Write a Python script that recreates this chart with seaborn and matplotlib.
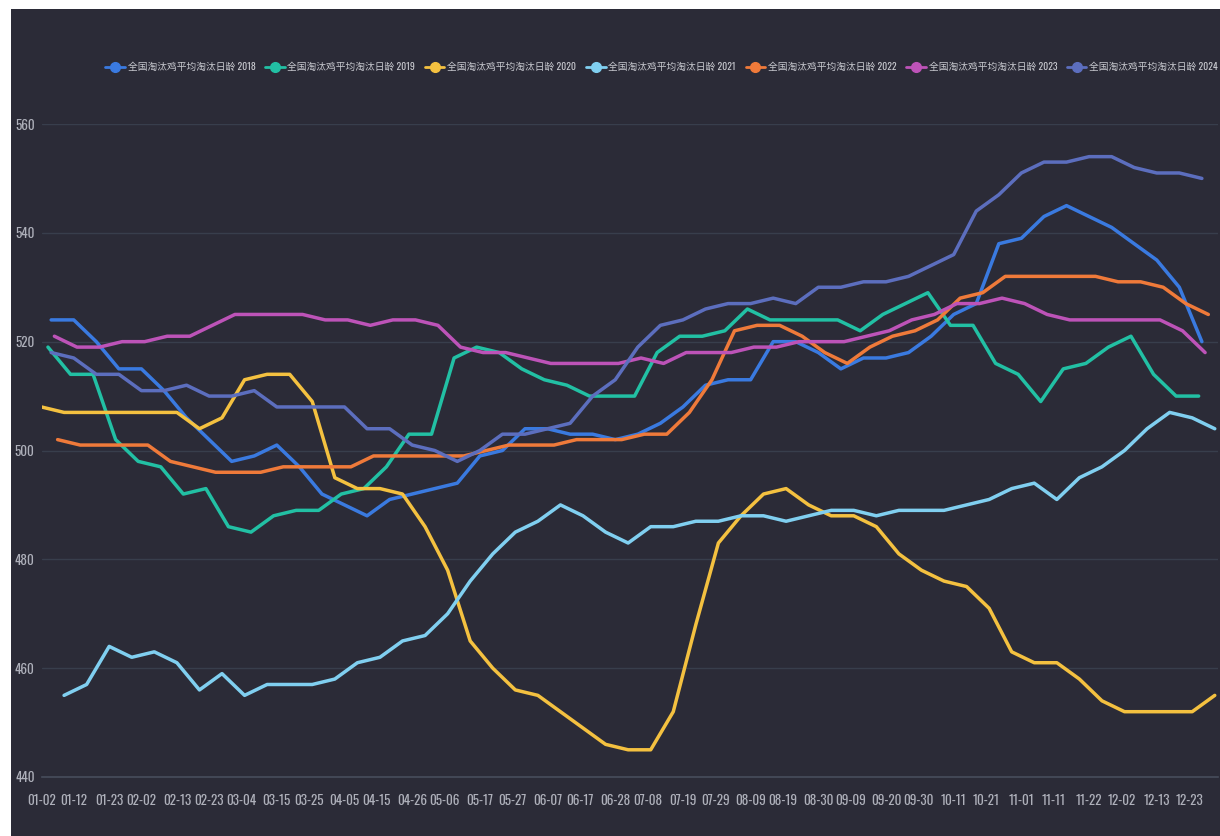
import pandas as pd
import matplotlib
matplotlib.use("Agg")
from matplotlib import pyplot as plt
from matplotlib.lines import Line2D
from matplotlib.patches import Rectangle
import seaborn as sns

# --- data (weekly points, one list per year) ---
series_names = ["全国淘汰鸡平均淘汰日龄 2018", "全国淘汰鸡平均淘汰日龄 2019",
                "全国淘汰鸡平均淘汰日龄 2020", "全国淘汰鸡平均淘汰日龄 2021",
                "全国淘汰鸡平均淘汰日龄 2022", "全国淘汰鸡平均淘汰日龄 2023",
                "全国淘汰鸡平均淘汰日龄 2024"]
start_dates = ["01-05", "01-04", "01-02", "01-09", "01-07", "01-06", "01-05"]
colors = ["#3a7ae0", "#22c0a4", "#f4c140", "#80cff0", "#ef7a3a", "#bd53b8", "#5c6ebe"]

v2018 = [524, 524, 520, 515, 515, 511, 506, 502, 498, 499, 501, 497, 492, 490, 488, 491,
         492, 493, 494, 499, 500, 504, 504, 503, 503, 502, 503, 505, 508, 512, 513, 513,
         520, 520, 518, 515, 517, 517, 518, 521, 525, 527, 538, 539, 543, 545, 543, 541,
         538, 535, 530, 520]
v2019 = [519, 514, 514, 502, 498, 497, 492, 493, 486, 485, 488, 489, 489, 492, 493, 497,
         503, 503, 517, 519, 518, 515, 513, 512, 510, 510, 510, 518, 521, 521, 522, 526,
         524, 524, 524, 524, 522, 525, 527, 529, 523, 523, 516, 514, 509, 515, 516, 519,
         521, 514, 510, 510]
v2020 = [508, 507, 507, 507, 507, 507, 507, 504, 506, 513, 514, 514, 509, 495, 493, 493,
         492, 486, 478, 465, 460, 456, 455, 452, 449, 446, 445, 445, 452, 468, 483, 488,
         492, 493, 490, 488, 488, 486, 481, 478, 476, 475, 471, 463, 461, 461, 458, 454,
         452, 452, 452, 452, 455]
v2021 = [455, 457, 464, 462, 463, 461, 456, 459, 455, 457, 457, 457, 458, 461, 462, 465,
         466, 470, 476, 481, 485, 487, 490, 488, 485, 483, 486, 486, 487, 487, 488, 488,
         487, 488, 489, 489, 488, 489, 489, 489, 490, 491, 493, 494, 491, 495, 497, 500,
         504, 507, 506, 504]
v2022 = [502, 501, 501, 501, 501, 498, 497, 496, 496, 496, 497, 497, 497, 497, 499, 499,
         499, 499, 499, 500, 501, 501, 501, 502, 502, 502, 503, 503, 507, 513, 522, 523,
         523, 521, 518, 516, 519, 521, 522, 524, 528, 529, 532, 532, 532, 532, 532, 531,
         531, 530, 527, 525]
v2023 = [521, 519, 519, 520, 520, 521, 521, 523, 525, 525, 525, 525, 524, 524, 523, 524,
         524, 523, 519, 518, 518, 517, 516, 516, 516, 516, 517, 516, 518, 518, 518, 519,
         519, 520, 520, 520, 521, 522, 524, 525, 527, 527, 528, 527, 525, 524, 524, 524,
         524, 524, 522, 518]
v2024 = [518, 517, 514, 514, 511, 511, 512, 510, 510, 511, 508, 508, 508, 508, 504, 504,
         501, 500, 498, 500, 503, 503, 504, 505, 510, 513, 519, 523, 524, 526, 527, 527,
         528, 527, 530, 530, 531, 531, 532, 534, 536, 544, 547, 551, 553, 553, 554, 554,
         552, 551, 551, 550]
all_values = [v2018, v2019, v2020, v2021, v2022, v2023, v2024]

x_labels = ["01-02", "01-12", "01-23", "02-02", "02-13", "02-23", "03-04", "03-15", "03-25",
            "04-05", "04-15", "04-26", "05-06", "05-17", "05-27", "06-07", "06-17", "06-28",
            "07-08", "07-19", "07-29", "08-09", "08-19", "08-30", "09-09", "09-20", "09-30",
            "10-11", "10-21", "11-01", "11-11", "11-22", "12-02", "12-13", "12-23"]
y_ticks = [440, 460, 480, 500, 520, 540, 560]


def day_of(md):
    # position on a common month-day axis (leap year so 02-29 fits)
    return pd.Timestamp("2024-" + md).dayofyear - 1


rows = []
for name, start, vals in zip(series_names, start_dates, all_values):
    d0 = day_of(start)
    for k, v in enumerate(vals):
        rows.append({"series": name, "day": d0 + 7 * k, "value": v})
df = pd.DataFrame(rows)

bg = "#2b2b37"
grid_c = "#383e4c"
text_c = "#aeb0ba"

sns.set_style("dark")
plt.rcParams["font.family"] = ["Oswald", "Roboto Condensed", "Noto Sans CJK SC", "DejaVu Sans"]

fig = plt.figure(figsize=(12.2, 8.36), dpi=100)
fig.patch.set_facecolor("white")
fig.patches.append(Rectangle((11 / 1220, 0), 1, (836 - 9) / 836, transform=fig.transFigure,
                             facecolor=bg, edgecolor="none", zorder=-10))

ax = fig.add_axes([41.5 / 1220, 59 / 836, 1176.5 / 1220, 653 / 836])
ax.set_facecolor(bg)

sns.lineplot(data=df, x="day", y="value", hue="series", palette=dict(zip(series_names, colors)),
             linewidth=2.5, legend=False, ax=ax, sort=True, estimator=None)
for ln in ax.get_lines():
    ln.set_solid_joinstyle("round")
    ln.set_solid_capstyle("round")

ax.set_xlim(1, 366)
ax.set_ylim(440, 560)
ax.set_yticks(y_ticks)
ax.set_yticklabels([str(t) for t in y_ticks])
tick_days = [day_of(m) for m in x_labels]
ax.set_xticks(tick_days)
ax.set_xticklabels(x_labels)
mids = [(a + b) / 2 for a, b in zip(tick_days[:-1], tick_days[1:])] + [tick_days[-1] + 5.25]
ax.set_xticks(mids, minor=True)

ax.tick_params(axis="x", which="major", length=0, pad=12, labelsize=9.5, labelcolor=text_c)
ax.tick_params(axis="x", which="minor", length=9, width=0.8, color="#3c4252", direction="out")
ax.tick_params(axis="y", length=0, pad=5, labelsize=9.5, labelcolor=text_c)
ax.set_xlabel("")
ax.set_ylabel("")

ax.grid(False)
for t in y_ticks[1:]:
    ax.axhline(t, color=grid_c, linewidth=1, zorder=0)
for s in ["top", "right", "left"]:
    ax.spines[s].set_visible(False)
ax.spines["bottom"].set_color("#474d5c")
ax.spines["bottom"].set_linewidth(1.2)

handles = [Line2D([0], [0], color=c, linewidth=2, marker="o", markersize=7,
                  markeredgecolor=c) for c in colors]
leg = fig.legend(handles, series_names, loc="center right", bbox_to_anchor=(1218 / 1220, (836 - 67) / 836),
                 ncol=7, frameon=False, fontsize=7.0, handlelength=2.0, handletextpad=0.3,
                 columnspacing=1.0, labelcolor="#c8c9cf", borderaxespad=0, borderpad=0)

fig.savefig("out.png", dpi=100, facecolor=fig.get_facecolor())
